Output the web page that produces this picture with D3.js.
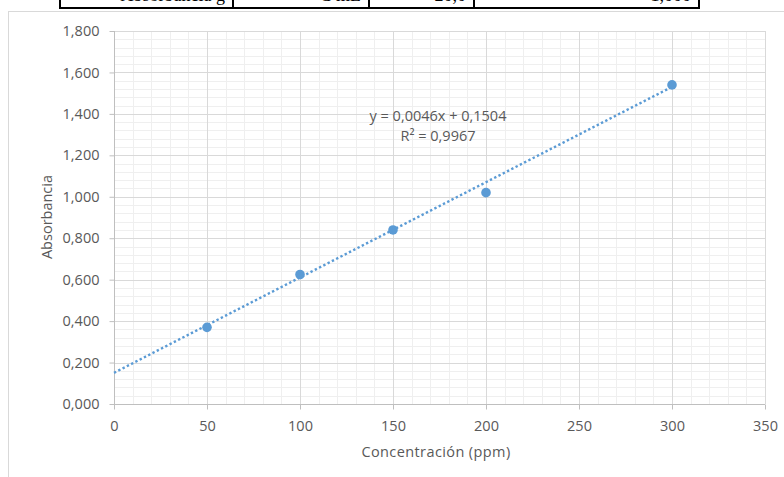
<!DOCTYPE html>
<html><head><meta charset="utf-8">
<script src="https://cdn.jsdelivr.net/npm/d3@7"></script>
<style>
body{margin:0;background:#fff;}
svg{display:block;}
</style></head>
<body>
<svg id="c" width="784" height="477"></svg>
<script>
const concentration = [50, 100, 150, 200, 300];
const absorbance = [0.370, 0.625, 0.840, 1.020, 1.540];
const xTicks = [0, 50, 100, 150, 200, 250, 300, 350];
const yTicks = [0, 0.2, 0.4, 0.6, 0.8, 1.0, 1.2, 1.4, 1.6, 1.8];
const trendSlope = 0.0046, trendIntercept = 0.1504, rSquared = 0.9967;
const trendRange = [0, 300];
const tableCells = ["Absorbancia g", "C  mL", "20,0", "1,000"];

const svg = d3.select("#c");
const loc = d3.formatLocale({decimal: ",", thousands: ".", grouping: [3], currency: ["", ""]});
const fy = loc.format(".3f");
const f4 = loc.format(".4f");

// cut-off table at top
const tbl = svg.append("g");
const cols = [60, 233, 369, 474, 699];
tbl.append("line").attr("x1", 60).attr("x2", 699).attr("y1", 8).attr("y2", 8).attr("stroke", "#000").attr("stroke-width", 2);
cols.forEach(x => tbl.append("line").attr("x1", x).attr("x2", x).attr("y1", -2).attr("y2", 9).attr("stroke", "#000").attr("stroke-width", 2));
tbl.selectAll("text.tc").data(tableCells).join("text")
  .attr("x", (d, i) => cols[i + 1] - 8).attr("y", 1).attr("text-anchor", "end")
  .attr("font-family", "Liberation Serif, serif").attr("font-size", 18).attr("fill", "#000").text(d => d);

// chart frame
svg.append("rect").attr("x", 8.5).attr("y", 11.5).attr("width", 820).attr("height", 520)
  .attr("fill", "#fff").attr("stroke", "#d9d9d9").attr("stroke-width", 1);

const x = d3.scaleLinear().domain([0, 350]).range([114, 765]);
const y = d3.scaleLinear().domain([0, 1.8]).range([404, 31]);

const grid = svg.append("g");
grid.selectAll("line.vm").data(d3.range(0, 351, 10).filter(v => v % 50 !== 0)).join("line")
  .attr("x1", d => Math.round(x(d)) + 0.5).attr("x2", d => Math.round(x(d)) + 0.5)
  .attr("y1", y(1.8)).attr("y2", y(0)).attr("stroke", "#efefef");
grid.selectAll("line.hm").data(d3.range(0, 46).map(i => i * 0.04).filter(v => Math.abs(v / 0.2 - Math.round(v / 0.2)) > 1e-6)).join("line")
  .attr("x1", x(0)).attr("x2", x(350))
  .attr("y1", d => Math.round(y(d)) + 0.5).attr("y2", d => Math.round(y(d)) + 0.5).attr("stroke", "#efefef");
grid.selectAll("line.vM").data(xTicks.slice(1)).join("line")
  .attr("x1", d => Math.round(x(d)) + 0.5).attr("x2", d => Math.round(x(d)) + 0.5)
  .attr("y1", y(1.8)).attr("y2", y(0)).attr("stroke", "#d9d9d9");
grid.selectAll("line.hM").data(yTicks.slice(1)).join("line")
  .attr("x1", x(0)).attr("x2", x(350))
  .attr("y1", d => Math.round(y(d)) + 0.5).attr("y2", d => Math.round(y(d)) + 0.5).attr("stroke", "#d9d9d9");

// axes
const font = "Open Sans, sans-serif";
const xAxis = d3.axisBottom(x).tickValues(xTicks).tickSize(5).tickFormat(d3.format("d"));
const gx = svg.append("g").attr("transform", `translate(0,${Math.round(y(0)) + 0.5})`).call(xAxis);
const yAxis = d3.axisLeft(y).tickValues(yTicks).tickSize(5).tickPadding(10).tickFormat(fy);
const gy = svg.append("g").attr("transform", `translate(${Math.round(x(0)) + 0.5},0)`).call(yAxis);
[gx, gy].forEach(g => {
  g.select(".domain").attr("stroke", "#bfbfbf");
  g.selectAll(".tick line").attr("stroke", "#bfbfbf");
  g.selectAll(".tick text").attr("fill", "#595959").attr("font-family", font).attr("font-size", 14.5);
});
gx.selectAll(".tick text").attr("y", 16);
gy.select(".domain").attr("d", `M0,${y(1.8)}V${y(0)}`);
gx.select(".domain").attr("d", `M${x(0)},0H${x(350)}`);

// axis titles
svg.append("text").attr("x", 436).attr("y", 457).attr("text-anchor", "middle")
  .attr("font-family", font).attr("font-size", 14.5).attr("letter-spacing", 0.4).attr("fill", "#595959").text("Concentración (ppm)");
svg.append("text").attr("transform", "translate(52,217) rotate(-90)").attr("text-anchor", "middle")
  .attr("font-family", font).attr("font-size", 14.5).attr("fill", "#595959").text("Absorbancia");

// trendline
svg.append("line")
  .attr("x1", x(trendRange[0])).attr("y1", y(trendSlope * trendRange[0] + trendIntercept))
  .attr("x2", x(trendRange[1])).attr("y2", y(trendSlope * trendRange[1] + trendIntercept))
  .attr("stroke", "#5b9bd5").attr("stroke-width", 2.4).attr("stroke-dasharray", "2.4 2.4");

// points
svg.selectAll("circle.pt").data(concentration).join("circle")
  .attr("cx", d => x(d)).attr("cy", (d, i) => y(absorbance[i])).attr("r", 4.8).attr("fill", "#5b9bd5");

// equation label
const eq = svg.append("g").attr("font-family", font).attr("font-size", 14.5).attr("fill", "#595959").attr("text-anchor", "middle");
eq.append("text").attr("x", 438).attr("y", 121).text(`y = ${f4(trendSlope)}x + ${f4(trendIntercept)}`);
eq.append("text").attr("x", 438).attr("y", 141).text(`R² = ${f4(rSquared)}`);
</script>
</body></html>
